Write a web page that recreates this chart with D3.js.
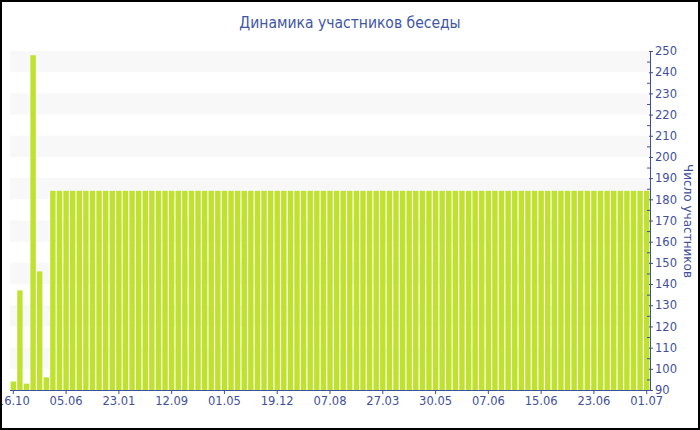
<!DOCTYPE html>
<html><head><meta charset="utf-8">
<script src="https://cdn.jsdelivr.net/npm/d3@7"></script>
<style>body{margin:0;background:#fff}svg{display:block}</style>
</head><body><svg id="c" width="700" height="430"></svg>
<script>
const chartTitle = "Динамика участников беседы";
const yAxisTitle = "Число участников";
const values = [
  94,137,93,248,146,96,184,184,184,184,
  184,184,184,184,184,184,184,184,184,184,
  184,184,184,184,184,184,184,184,184,184,
  184,184,184,184,184,184,184,184,184,184,
  184,184,184,184,184,184,184,184,184,184,
  184,184,184,184,184,184,184,184,184,184,
  184,184,184,184,184,184,184,184,184,184,
  184,184,184,184,184,184,184,184,184,184,
  184,184,184,184,184,184,184,184,184,184,
  184,184,184,184,184,184,184
];
const categories = values.map((d, i) => i);
const tickIndices = [0,8,16,24,32,40,48,56,64,72,80,88,96];
const tickLabels = ["16.10","05.06","23.01","12.09","01.05","19.12","07.08","27.03","30.05","07.06","15.06","23.06","01.07"];
const yMajorTicks = [90,100,110,120,130,140,150,160,170,180,190,200,210,220,230,240,250];
const yMinorTicks = [95,105,115,125,135,145,155,165,175,185,195,205,215,225,235,245];
const bandRanges = [[100,110],[120,130],[140,150],[160,170],[180,190],[200,210],[220,230],[240,250]];

const axisColor = "#3e4f9b";
const textColor = "#3f509c";
const barColor = "#bfe22e";
const font = "DejaVu Sans, Verdana, sans-serif";

const svg = d3.select("#c");
const mLeft = 10, mRight = 650, mTop = 51, mBottom = 390;

const x = d3.scaleBand().domain(categories).range([mLeft, mRight]).paddingInner(0.18).paddingOuter(0.09);
const y = d3.scaleLinear().domain([90, 250]).range([mBottom, mTop]);

svg.append("rect").attr("width", 700).attr("height", 430).attr("fill", "#fff");

// bands
svg.append("g").selectAll("rect").data(bandRanges).join("rect")
  .attr("x", mLeft).attr("width", mRight - mLeft)
  .attr("y", d => y(d[1])).attr("height", d => y(d[0]) - y(d[1]))
  .attr("fill", "#f8f8f8");

// bars
svg.append("g").selectAll("rect").data(values).join("rect")
  .attr("x", (d, i) => x(categories[i]))
  .attr("width", x.bandwidth())
  .attr("y", d => y(d))
  .attr("height", d => y(90) - y(d))
  .attr("fill", barColor);

// x axis
const xAxis = d3.axisBottom(x)
  .tickValues(tickIndices.map(i => categories[i]))
  .tickFormat(d => tickLabels[tickIndices.indexOf(d)])
  .tickSizeInner(4).tickSizeOuter(0).tickPadding(3);
const gx = svg.append("g").attr("transform", `translate(0,${mBottom})`).call(xAxis);
gx.select(".domain").attr("stroke", axisColor).attr("d", `M${mLeft},0.5H${mRight}`);
gx.selectAll(".tick line").attr("stroke", axisColor);
gx.selectAll(".tick text").attr("fill", textColor).style("font-family", font).style("font-size", "11.5px");

// y axis (right)
const yAxis = d3.axisRight(y).tickValues(yMajorTicks).tickSizeInner(3).tickSizeOuter(0).tickPadding(2);
const gy = svg.append("g").attr("transform", `translate(${mRight},0)`).call(yAxis);
gy.select(".domain").attr("stroke", axisColor);
gy.selectAll(".tick line").attr("stroke", axisColor).attr("x1", -1);
gy.selectAll(".tick text").attr("fill", textColor).style("font-family", font).style("font-size", "11.5px");
gy.append("g").selectAll("line").data(yMinorTicks).join("line")
  .attr("x1", -3).attr("x2", 0)
  .attr("y1", d => y(d) + 0.5).attr("y2", d => y(d) + 0.5)
  .attr("stroke", axisColor);

// title
svg.append("text").attr("x", 350).attr("y", 28).attr("text-anchor", "middle")
  .attr("fill", "#3f56a6").style("font-family", "Liberation Sans Narrow, DejaVu Sans Condensed, sans-serif")
  .style("font-size", "15.5px").text(chartTitle);

// y title
svg.append("text").attr("transform", "translate(684,221) rotate(90)").attr("text-anchor", "middle")
  .attr("fill", textColor).style("font-family", font).style("font-size", "12px").text(yAxisTitle);

// border
svg.append("rect").attr("x", 1).attr("y", 1).attr("width", 698).attr("height", 428)
  .attr("fill", "none").attr("stroke", "#000").attr("stroke-width", 2);
</script></body></html>
